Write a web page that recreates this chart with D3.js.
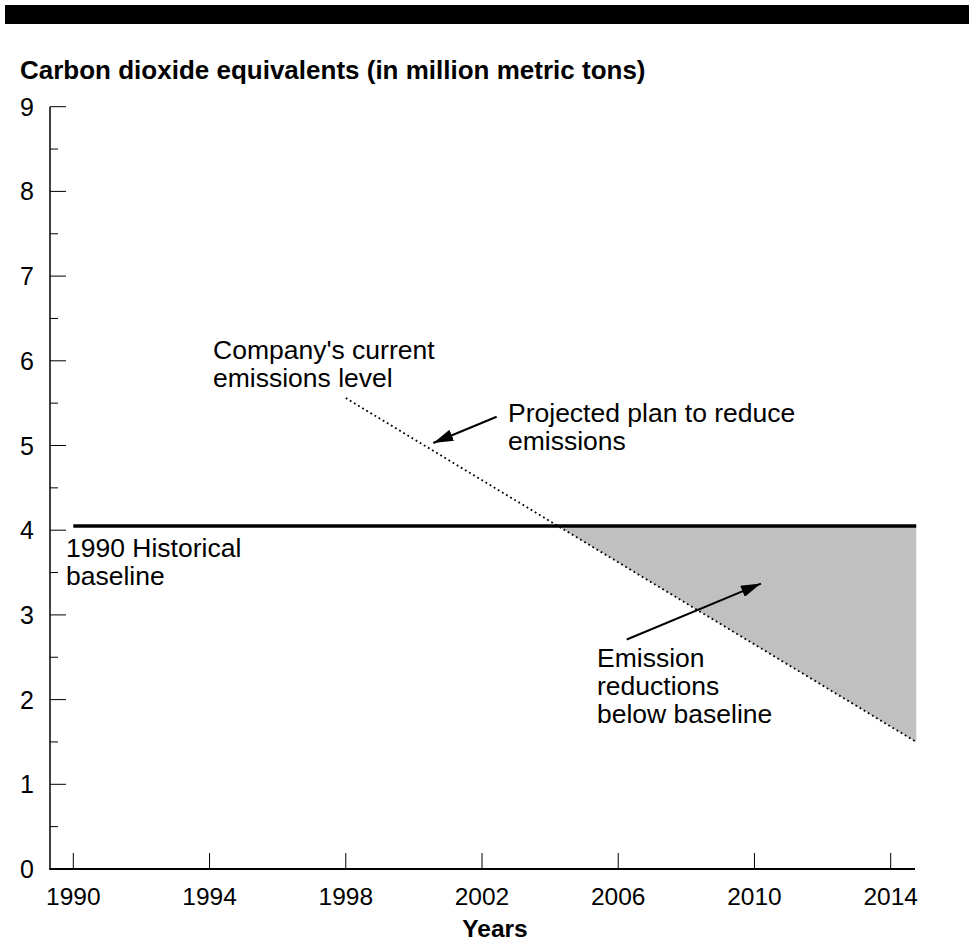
<!DOCTYPE html>
<html>
<head>
<meta charset="utf-8">
<script src="https://cdn.jsdelivr.net/npm/d3@7"></script>
<style>
  html, body { margin: 0; padding: 0; background: #fff; }
  svg { display: block; font-family: "Liberation Sans", Arial, Helvetica, sans-serif; }
</style>
</head>
<body>
<svg id="chart" width="969" height="943"></svg>
<script>
// ---- data ----
const xTickYears = [1990, 1994, 1998, 2002, 2006, 2010, 2014];
const yMajorTicks = [0, 1, 2, 3, 4, 5, 6, 7, 8, 9];
const yMinorTicks = [0.5, 1.5, 2.5, 3.5, 4.5, 5.5, 6.5, 7.5, 8.5];
const baselineYears = [1990, 2014.75];
const baselineValues = [4.05, 4.05];
const projectedYears = [1998, 2014.75];
const projectedValues = [5.56, 1.5];
const yTitle = "Carbon dioxide equivalents (in million metric tons)";
const xTitle = "Years";

// ---- layout ----
const svg = d3.select("#chart");
const x = d3.scaleLinear().domain([1990, 2014]).range([73.3, 890.7]);
const y = d3.scaleLinear().domain([0, 9]).range([869, 106.7]);
const axisLeftX = 50, axisRightX = 915;

// top black band
svg.append("rect").attr("x", 5).attr("y", 5).attr("width", 964).attr("height", 19).attr("fill", "#000");

// y title
svg.append("text").attr("x", 20).attr("y", 79)
  .attr("font-size", 26).attr("font-weight", "bold").attr("fill", "#000").text(yTitle);

// shaded area between baseline and projected line
const base = baselineValues[0];
const slope = (projectedValues[1] - projectedValues[0]) / (projectedYears[1] - projectedYears[0]);
const crossYear = projectedYears[0] + (base - projectedValues[0]) / slope;
const areaPts = [[crossYear, base], [projectedYears[1], base], [projectedYears[1], projectedValues[1]]];
svg.append("path")
  .attr("d", d3.line().x(d => x(d[0])).y(d => y(d[1]))(areaPts) + "Z")
  .attr("fill", "#c0c0c0");

// y axis
const gy = svg.append("g");
gy.append("line").attr("x1", axisLeftX).attr("x2", axisLeftX)
  .attr("y1", y(0)).attr("y2", y(9)).attr("stroke", "#000").attr("stroke-width", 1.5);
gy.selectAll(".maj").data(yMajorTicks).join("line")
  .attr("x1", axisLeftX).attr("x2", axisLeftX + 16)
  .attr("y1", d => y(d)).attr("y2", d => y(d)).attr("stroke", "#000").attr("stroke-width", 1);
gy.selectAll(".min").data(yMinorTicks).join("line")
  .attr("x1", axisLeftX).attr("x2", axisLeftX + 8)
  .attr("y1", d => y(d)).attr("y2", d => y(d)).attr("stroke", "#000").attr("stroke-width", 1);
gy.selectAll("text").data(yMajorTicks).join("text")
  .attr("x", 34).attr("y", d => y(d)).attr("dy", "0.36em")
  .attr("text-anchor", "end").attr("font-size", 25).text(d => d);

// x axis
const gx = svg.append("g");
gx.append("line").attr("x1", axisLeftX - 0.75).attr("x2", axisRightX)
  .attr("y1", y(0)).attr("y2", y(0)).attr("stroke", "#000").attr("stroke-width", 2);
gx.selectAll("line.t").data(xTickYears).join("line")
  .attr("x1", d => x(d)).attr("x2", d => x(d))
  .attr("y1", y(0)).attr("y2", y(0) - 16).attr("stroke", "#000").attr("stroke-width", 1);
gx.selectAll("text").data(xTickYears).join("text")
  .attr("x", d => x(d)).attr("y", 905)
  .attr("text-anchor", "middle").attr("font-size", 24.5).text(d => d);
svg.append("text").attr("x", 495).attr("y", 937).attr("text-anchor", "middle")
  .attr("font-size", 24.5).attr("font-weight", "bold").text(xTitle);

// baseline
svg.append("path")
  .attr("d", d3.line().x(d => x(d[0])).y(d => y(d[1]))(baselineYears.map((v, i) => [v, baselineValues[i]])))
  .attr("stroke", "#000").attr("stroke-width", 3.5).attr("fill", "none");

// projected dotted line
svg.append("path")
  .attr("d", d3.line().x(d => x(d[0])).y(d => y(d[1]))(projectedYears.map((v, i) => [v, projectedValues[i]])))
  .attr("stroke", "#000").attr("stroke-width", 1.8).attr("stroke-dasharray", "1.8,3").attr("fill", "none");

// arrows
const defs = svg.append("defs");
defs.append("marker").attr("id", "ah").attr("viewBox", "0 0 20 12")
  .attr("refX", 20).attr("refY", 6).attr("markerWidth", 20).attr("markerHeight", 12)
  .attr("markerUnits", "userSpaceOnUse").attr("orient", "auto")
  .append("path").attr("d", "M0,0 L20,6 L0,12 Z").attr("fill", "#000");

const arrows = [
  [[2002.43, 5.34], [2000.57, 5.03]],
  [[2006.25, 2.71], [2010.19, 3.37]]
];
svg.selectAll("line.arrow").data(arrows).join("line")
  .attr("x1", d => x(d[0][0])).attr("y1", d => y(d[0][1]))
  .attr("x2", d => x(d[1][0])).attr("y2", d => y(d[1][1]))
  .attr("stroke", "#000").attr("stroke-width", 2).attr("marker-end", "url(#ah)");

// annotations
function label(px, py, lines) {
  const t = svg.append("text").attr("font-size", 26.5).attr("fill", "#000");
  lines.forEach((s, i) => t.append("tspan").attr("x", px).attr("y", py + i * 28).text(s));
}
label(213, 359, ["Company's current", "emissions level"]);
label(508, 422, ["Projected plan to reduce", "emissions"]);
label(66, 557, ["1990 Historical", "baseline"]);
label(597, 667, ["Emission", "reductions", "below baseline"]);
</script>
</body>
</html>
